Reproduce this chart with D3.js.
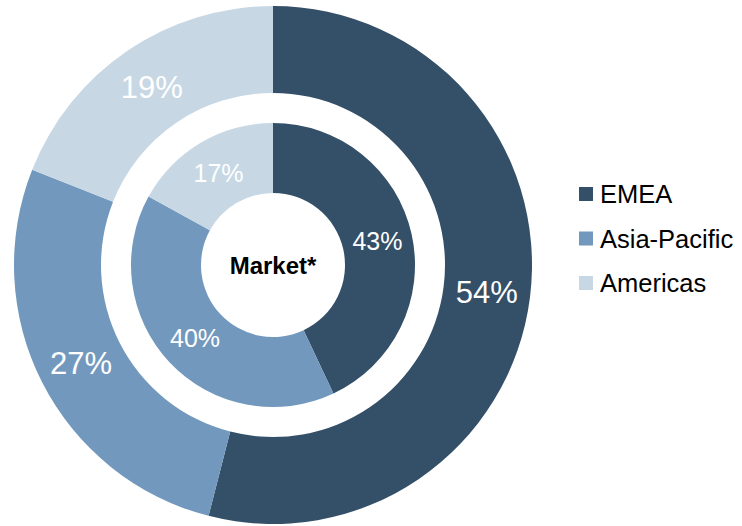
<!DOCTYPE html>
<html>
<head>
<meta charset="utf-8">
<script src="https://cdn.jsdelivr.net/npm/d3@7"></script>
<style>
  body { margin: 0; background: #fff; }
  svg { display: block; font-family: Arial, "Liberation Sans", sans-serif; }
</style>
</head>
<body>
<div id="chart"></div>
<script>
var width = 742,
    height = 526;

// data
var regions = ["EMEA", "Asia-Pacific", "Americas"];
var outerValues = [54, 27, 19];   // outer ring
var innerValues = [43, 40, 17];   // inner ring (Market*)
var centerLabel = "Market*";

var color = d3.scaleOrdinal()
    .domain(regions)
    .range(["#344f68", "#7299bd", "#c7d7e4"]);

var svg = d3.select("#chart")
    .append("svg")
    .attr("width", width)
    .attr("height", height);

var g = svg.append("g")
    .attr("transform", "translate(273,265)");

var pie = d3.pie()
    .sort(null)
    .value(function (d) { return d.value; });

function ring(values, r0, r1, fontSize) {
    var data = pie(regions.map(function (name, i) {
        return { name: name, value: values[i] };
    }));
    var arc = d3.arc().innerRadius(r0).outerRadius(r1);

    var grp = g.append("g");
    grp.selectAll("path")
        .data(data)
        .enter().append("path")
        .attr("d", arc)
        .style("fill", function (d) { return color(d.data.name); });

    grp.selectAll("text")
        .data(data)
        .enter().append("text")
        .attr("transform", function (d) {
            var c = arc.centroid(d);
            return "translate(" + c[0] + "," + c[1] + ")";
        })
        .attr("text-anchor", "middle")
        .attr("dy", "0.35em")
        .style("fill", "#fff")
        .style("font-size", fontSize + "px")
        .text(function (d) { return d.data.value + "%"; });
}

ring(outerValues, 172, 259, 31);
ring(innerValues, 72, 142, 25);

g.append("text")
    .attr("text-anchor", "middle")
    .attr("dy", "0.35em")
    .attr("y", 1)
    .style("font-size", "24px")
    .style("font-weight", "bold")
    .style("fill", "#000")
    .text(centerLabel);

// legend
var legend = svg.append("g")
    .attr("transform", "translate(579,203)");

var item = legend.selectAll("g")
    .data(regions)
    .enter().append("g")
    .attr("transform", function (d, i) { return "translate(0," + (i * 44.5) + ")"; });

item.append("rect")
    .attr("x", 0)
    .attr("y", -16)
    .attr("width", 14)
    .attr("height", 14)
    .style("fill", function (d) { return color(d); });

item.append("text")
    .attr("x", 21)
    .attr("y", 0)
    .style("font-size", "25.5px")
    .style("fill", "#000")
    .text(function (d) { return d; });
</script>
</body>
</html>
